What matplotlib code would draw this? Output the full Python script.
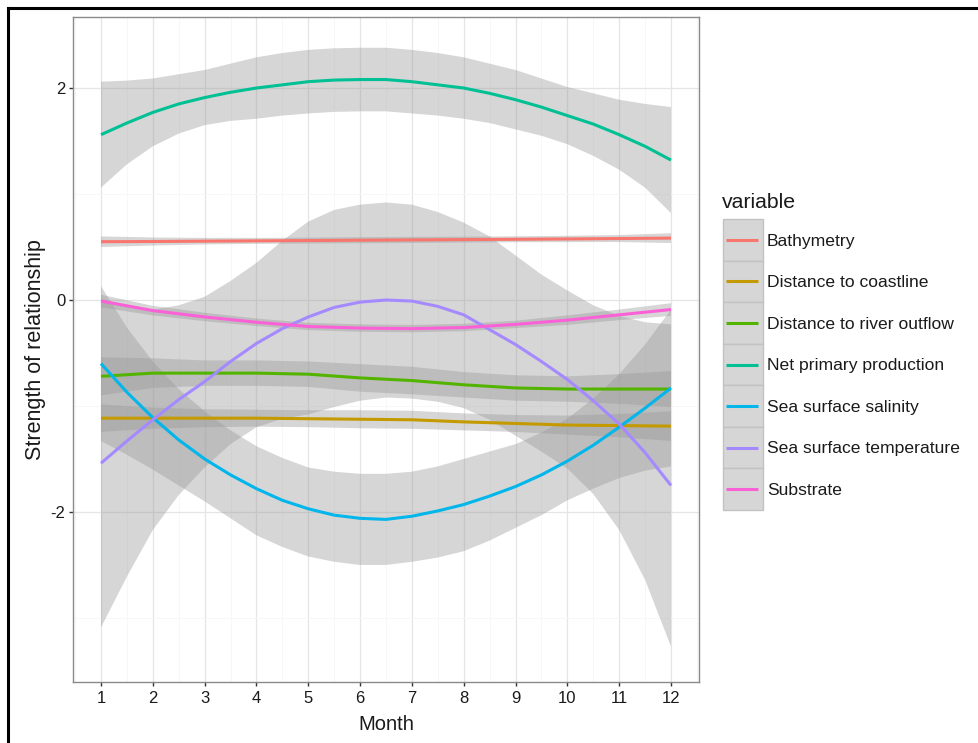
import matplotlib
matplotlib.use("Agg")
import matplotlib.pyplot as plt
from matplotlib.patches import Rectangle
from matplotlib.lines import Line2D

plt.rcParams['font.family'] = ['Liberation Sans', 'DejaVu Sans']
plt.rcParams['axes.unicode_minus'] = False

# ---------------- data ----------------
months = [1, 2, 3, 4, 5, 6, 7, 8, 9, 10, 11, 12]
months_half = [1, 1.5, 2, 2.5, 3, 3.5, 4, 4.5, 5, 5.5, 6, 6.5, 7, 7.5, 8, 8.5,
               9, 9.5, 10, 10.5, 11, 11.5, 12]
variables = ["Bathymetry", "Distance to coastline", "Distance to river outflow",
             "Net primary production", "Sea surface salinity",
             "Sea surface temperature", "Substrate"]
colors = ["#F8766D", "#C49A00", "#53B400", "#00C094", "#00B6EB", "#A58AFF", "#FB61D7"]

bathy_fit = [0.550, 0.552, 0.555, 0.558, 0.561, 0.564, 0.567, 0.570, 0.573, 0.576, 0.580, 0.584]
bathy_lo = [0.500, 0.514, 0.524, 0.530, 0.533, 0.535, 0.538, 0.542, 0.545, 0.546, 0.547, 0.538]
bathy_hi = [0.600, 0.590, 0.586, 0.586, 0.589, 0.593, 0.596, 0.598, 0.601, 0.606, 0.613, 0.630]

coast_fit = [-1.115, -1.115, -1.115, -1.115, -1.120, -1.125, -1.130, -1.150, -1.165, -1.180, -1.185, -1.190]
coast_lo = [-1.245, -1.215, -1.200, -1.195, -1.200, -1.210, -1.215, -1.230, -1.245, -1.270, -1.295, -1.330]
coast_hi = [-0.985, -1.015, -1.030, -1.035, -1.040, -1.040, -1.045, -1.070, -1.085, -1.090, -1.075, -1.050]

river_fit = [-0.72, -0.69, -0.69, -0.69, -0.70, -0.735, -0.76, -0.80, -0.83, -0.84, -0.84, -0.84]
river_lo = [-0.90, -0.83, -0.81, -0.81, -0.82, -0.865, -0.89, -0.92, -0.95, -0.96, -0.98, -1.01]
river_hi = [-0.54, -0.55, -0.57, -0.57, -0.58, -0.605, -0.63, -0.68, -0.71, -0.72, -0.70, -0.67]

npp_fit = [1.56, 1.67, 1.77, 1.85, 1.91, 1.96, 2.00, 2.03, 2.06, 2.075, 2.08, 2.08,
           2.06, 2.03, 2.00, 1.95, 1.89, 1.82, 1.74, 1.66, 1.56, 1.45, 1.32]
npp_lo = [1.06, 1.28, 1.45, 1.57, 1.65, 1.69, 1.71, 1.74, 1.76, 1.775, 1.78, 1.78,
          1.76, 1.74, 1.71, 1.67, 1.61, 1.55, 1.47, 1.36, 1.23, 1.06, 0.82]
npp_hi = [2.06, 2.07, 2.09, 2.13, 2.17, 2.23, 2.29, 2.33, 2.36, 2.375, 2.38, 2.38,
          2.36, 2.33, 2.29, 2.23, 2.17, 2.09, 2.01, 1.95, 1.89, 1.85, 1.82]

sss_fit = [-0.60, -0.87, -1.11, -1.32, -1.50, -1.65, -1.78, -1.89, -1.97, -2.03, -2.06, -2.07,
           -2.04, -1.99, -1.93, -1.85, -1.76, -1.65, -1.52, -1.37, -1.20, -1.02, -0.83]
sss_lo = [-1.33, -1.46, -1.60, -1.75, -1.90, -2.06, -2.22, -2.33, -2.42, -2.47, -2.50, -2.50,
          -2.47, -2.43, -2.37, -2.27, -2.15, -2.03, -1.89, -1.78, -1.68, -1.61, -1.57]
sss_hi = [0.13, -0.26, -0.58, -0.84, -1.05, -1.23, -1.38, -1.49, -1.58, -1.62, -1.64, -1.64,
          -1.62, -1.57, -1.50, -1.43, -1.36, -1.25, -1.12, -0.93, -0.70, -0.42, -0.09]

sst_fit = [-1.54, -1.33, -1.13, -0.94, -0.77, -0.58, -0.41, -0.27, -0.16, -0.07, -0.02, 0.00,
           -0.01, -0.06, -0.14, -0.28, -0.42, -0.58, -0.75, -0.95, -1.17, -1.44, -1.75]
sst_lo = [-3.09, -2.61, -2.17, -1.84, -1.58, -1.36, -1.20, -1.12, -1.08, -1.01, -0.95, -0.92,
          -0.93, -0.96, -1.02, -1.13, -1.28, -1.43, -1.59, -1.83, -2.17, -2.64, -3.27]
sst_hi = [0.01, -0.05, -0.09, -0.05, 0.03, 0.18, 0.35, 0.56, 0.74, 0.85, 0.90, 0.92,
          0.90, 0.83, 0.73, 0.60, 0.42, 0.24, 0.09, -0.05, -0.15, -0.21, -0.23]

subs_fit = [-0.01, -0.10, -0.16, -0.21, -0.25, -0.265, -0.27, -0.26, -0.23, -0.19, -0.14, -0.09]
subs_lo = [-0.07, -0.145, -0.20, -0.245, -0.285, -0.30, -0.305, -0.295, -0.265, -0.235, -0.19, -0.15]
subs_hi = [0.05, -0.055, -0.12, -0.175, -0.215, -0.23, -0.235, -0.225, -0.195, -0.145, -0.09, -0.03]

x_ticks = [1, 2, 3, 4, 5, 6, 7, 8, 9, 10, 11, 12]
y_ticks = [-2, 0, 2]

series = list(zip(variables, colors,
                  [months, months, months, months_half, months_half, months_half, months],
                  [bathy_fit, coast_fit, river_fit, npp_fit, sss_fit, sst_fit, subs_fit],
                  [bathy_lo, coast_lo, river_lo, npp_lo, sss_lo, sst_lo, subs_lo],
                  [bathy_hi, coast_hi, river_hi, npp_hi, sss_hi, sst_hi, subs_hi]))

# ---------------- figure ----------------
W, H = 979, 743
fig = plt.figure(figsize=(W / 100, H / 100), dpi=100)
fig.patch.set_facecolor("white")

def fx(px):
    return px / W

def fy(py):
    return 1 - py / H

pl, pr, pt, pb = 72.5, 699.5, 16.7, 682.3
ax = fig.add_axes([fx(pl), fy(pb), fx(pr) - fx(pl), fy(pt) - fy(pb)])
ax.set_xlim(0.45, 12.55)
ax.set_ylim(-3.607, 2.673)

# grid
ax.set_axisbelow(True)
ax.set_xticks(x_ticks)
ax.set_yticks(y_ticks)
ax.set_xticks([m + 0.5 for m in [0] + x_ticks], minor=True)
ax.set_yticks([-3, -1, 1], minor=True)
ax.grid(which="major", color="#E5E5E5", linewidth=0.9)
ax.grid(which="minor", color="#F6F6F6", linewidth=0.6)
ax.tick_params(which="minor", length=0)
ax.tick_params(which="major", length=3, width=1.0, color="#333333",
               labelsize=12, labelcolor="#1A1A1A")
ax.tick_params(axis="x", pad=3.5)
ax.tick_params(axis="y", pad=2)

for sp in ax.spines.values():
    sp.set_color("#8A8A8A")
    sp.set_linewidth(1.0)

# ribbons and lines, group by group (ggplot order)
for name, col, xs, fit, lo, hi in series:
    ax.fill_between(xs, lo, hi, facecolor="#999999", alpha=0.4, linewidth=0, zorder=2)
    ax.plot(xs, fit, color=col, linewidth=2.2, solid_capstyle="butt", zorder=3)

ax.set_xlabel("Month", fontsize=14.5, color="#1A1A1A")
ax.set_ylabel("Strength of relationship", fontsize=15.5, color="#1A1A1A")
ax.xaxis.set_label_coords((386 - pl) / (pr - pl), (pb - 724.5) / (pb - pt))
ax.xaxis.label.set_va("center")
ax.yaxis.set_label_coords((35 - pl) / (pr - pl), 0.5)
ax.yaxis.label.set_va("center")

# ---------------- legend ----------------
kl, kr, kt, kb = 723, 763, 219, 510
lax = fig.add_axes([fx(kl), fy(kb), fx(kr) - fx(kl), fy(kt) - fy(kb)])
lax.set_xlim(0, 1)
lax.set_ylim(len(variables), 0)
lax.axis("off")
for i, (name, col) in enumerate(zip(variables, colors)):
    lax.add_patch(Rectangle((0, i), 1, 1, facecolor="#D6D6D6", edgecolor="#C2C2C2",
                            linewidth=1.0, clip_on=False))
    lax.add_line(Line2D([0.075, 0.875], [i + 0.5, i + 0.5], color=col, linewidth=2.2,
                        solid_capstyle="butt", clip_on=False))
    lax.text((767 - kl) / (kr - kl), i + 0.53, name, fontsize=12.6, color="#1A1A1A",
             va="center", ha="left", clip_on=False)
row_h = (kb - kt) / len(variables)
lax.text((722 - kl) / (kr - kl), (202 - kt) / row_h, "variable", fontsize=15.3,
         color="#1A1A1A", va="center", ha="left", clip_on=False)

# outer frame (left and top edges visible in the reference)
fig.add_artist(Line2D([fx(8), fx(8)], [fy(8), 0], color="black", linewidth=2.2,
                      transform=fig.transFigure))
fig.add_artist(Line2D([fx(8), 1], [fy(8), fy(8)], color="black", linewidth=2.2,
                      transform=fig.transFigure))

fig.savefig("out.png", dpi=100, facecolor="white")
